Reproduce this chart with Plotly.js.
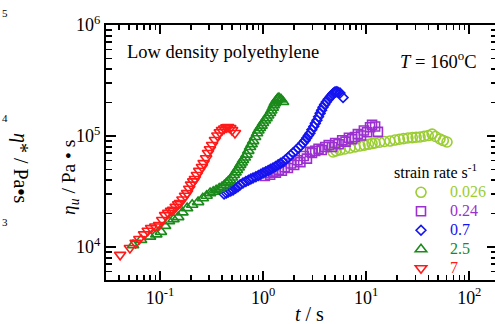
<!DOCTYPE html>
<html>
<head>
<meta charset="utf-8">
<script src="https://cdn.plot.ly/plotly-3.0.1.min.js"></script>
<style>
html,body{margin:0;padding:0;overflow:hidden;background:#fff;}
#chart{width:497px;height:324px;}
</style>
</head>
<body>
<div id="chart"></div>
<script>
// strain rate labels
var rateLabels = ['0.026', '0.24', '0.7', '2.5', '7'];

// 0.026 s^-1
var t026 = [4.77, 5.1, 5.57, 6.2, 6.96, 7.8, 8.71, 9.6, 10.5, 11.4, 12.2, 13.5, 15.0, 17.0, 19.0, 21.0, 23.0, 25.4, 28.0, 30.5, 33.3, 36.5, 40.0, 43.6, 47.0, 52.0, 56.0, 60.8];
var e026 = [71800, 73500, 74800, 76500, 78000, 79800, 81300, 82800, 84200, 85500, 86500, 88000, 89200, 90100, 92000, 93500, 94800, 96000, 96800, 97500, 98000, 99500, 101000, 104000, 99000, 94000, 91000, 88300];

// 0.24 s^-1
var t024 = [1.04, 1.10, 1.17, 1.25, 1.33, 1.42, 1.52, 1.62, 1.74, 1.86, 2.0, 2.15, 2.3, 2.48, 2.66, 2.85, 2.98, 3.2, 3.45, 3.7, 4.0, 4.33, 4.66, 5.0, 5.4, 5.85, 6.3, 6.8, 7.3, 7.78, 8.3, 8.9, 9.5, 10.2, 10.9, 11.4, 12.2, 13.0];
var e024 = [43600, 46500, 44800, 47800, 46800, 49500, 48600, 52300, 51500, 56500, 54800, 60500, 58200, 66000, 62500, 72000, 70300, 73500, 76800, 74800, 79600, 82800, 79600, 86500, 84200, 91500, 89000, 96500, 93500, 98000, 104000, 101000, 112000, 108000, 120000, 126000, 122000, 109000];

// 0.7 s^-1
var t07 = [0.418, 0.44, 0.46, 0.485, 0.511, 0.54, 0.57, 0.60, 0.638, 0.68, 0.72, 0.76, 0.798, 0.85, 0.90, 0.95, 0.998, 1.06, 1.12, 1.18, 1.247, 1.32, 1.40, 1.48, 1.56, 1.65, 1.75, 1.85, 1.95, 2.07, 2.20, 2.32, 2.44, 2.55, 2.65, 2.75, 2.85, 2.97, 3.10, 3.21, 3.33, 3.45, 3.57, 3.69, 3.81, 3.95, 4.10, 4.28, 4.46, 4.60, 4.75, 4.88, 4.98, 5.12, 5.30, 5.57, 5.96];
var e07 = [30000, 30600, 31300, 31900, 32600, 33800, 35000, 36400, 37800, 38900, 40000, 41000, 41900, 42900, 44000, 45200, 46500, 47700, 49000, 50200, 51500, 53200, 55000, 56700, 58400, 61200, 64000, 67200, 70300, 74000, 78000, 82200, 86500, 91000, 96000, 101000, 106000, 114000, 122000, 130000, 139000, 149000, 160000, 171000, 182000, 192000, 203000, 214000, 224000, 232000, 240000, 245000, 249000, 250000, 249000, 244000, 222000];

// 2.5 s^-1
var t25 = [0.0547, 0.0655, 0.080, 0.092, 0.102, 0.112, 0.122, 0.135, 0.150, 0.165, 0.183, 0.205, 0.234, 0.260, 0.283, 0.306, 0.328, 0.350, 0.375, 0.399, 0.420, 0.440, 0.458, 0.477, 0.498, 0.520, 0.540, 0.558, 0.580, 0.600, 0.620, 0.638, 0.665, 0.690, 0.718, 0.747, 0.773, 0.800, 0.836, 0.873, 0.900, 0.930, 0.965, 0.998, 1.040, 1.080, 1.120, 1.167, 1.200, 1.240, 1.270, 1.300, 1.330, 1.360, 1.390, 1.425, 1.490, 1.560];
var e25 = [10400, 11600, 12400, 13000, 13700, 15500, 17100, 17800, 18600, 20500, 22400, 24000, 25400, 27500, 29000, 30600, 31500, 32500, 33600, 34700, 36000, 37500, 38800, 40200, 42300, 44500, 47000, 49400, 52000, 55000, 57800, 60800, 64000, 68000, 73500, 79600, 84500, 90000, 98000, 106000, 112000, 118000, 124000, 131000, 138000, 145000, 153000, 161000, 170000, 180000, 189000, 198000, 205000, 212000, 217000, 220000, 214000, 203000];

// 7 s^-1
var t7 = [0.041, 0.051, 0.058, 0.063, 0.070, 0.076, 0.082, 0.090, 0.098, 0.105, 0.112, 0.120, 0.128, 0.134, 0.142, 0.150, 0.156, 0.165, 0.175, 0.183, 0.192, 0.200, 0.210, 0.218, 0.228, 0.240, 0.255, 0.265, 0.280, 0.292, 0.305, 0.320, 0.341, 0.360, 0.380, 0.399, 0.420, 0.440, 0.457, 0.480, 0.500, 0.533];
var e7 = [8500, 9800, 10900, 11800, 13000, 14000, 14800, 15300, 15800, 17500, 19400, 20300, 21200, 21600, 23000, 24300, 24900, 26800, 29000, 30600, 33500, 36500, 39000, 41000, 44500, 48500, 52600, 57000, 63000, 70300, 76000, 83000, 92000, 101000, 108000, 113000, 117000, 120000, 120500, 118000, 113000, 106500];

// axis ticks
var xTickVals = [0.1, 1, 10, 100];
var xTickText = ['10<sup>-1</sup>', '10<sup>0</sup>', '10<sup>1</sup>', '10<sup>2</sup>'];
var yTickVals = [1e4, 1e5, 1e6];
var yTickText = ['10<sup>4</sup>', '10<sup>5</sup>', '10<sup>6</sup>'];

var colors = ['#9acd32', '#9b30d0', '#1414f0', '#1a8a1a', '#ff1a1a'];
var symbols = ['circle-open', 'square-open', 'diamond-open', 'triangle-up-open', 'triangle-down-open'];
var sizes = [10, 9, 7.5, 10, 10];
var xs = [t026, t024, t07, t25, t7];
var ys = [e026, e024, e07, e25, e7];

function minorVals(lo, hi) {
  var v = [];
  for (var d = lo; d <= hi; d++) {
    for (var m = 2; m <= 9; m++) v.push(m * Math.pow(10, d));
  }
  return v;
}

var serif = 'Liberation Serif, Times New Roman, serif';
var traces = [];
for (var i = 0; i < 5; i++) {
  traces.push({
    x: xs[i], y: ys[i], type: 'scatter', mode: 'markers',
    name: '<span style="color:' + colors[i] + ';font-size:16px">' + rateLabels[i] + '</span>',
    marker: {symbol: symbols[i], size: sizes[i], color: colors[i], line: {width: 1.6, color: colors[i]}},
    cliponaxis: true
  });
}

var W = 391, H = 255, L = 106, T = 25;
function px(p) { return (p - L) / W; }
function py(p) { return (T + H - p) / H; }

var layout = {
  width: 497, height: 324,
  margin: {l: L, r: 0, t: T, b: 324 - T - H, pad: 0},
  paper_bgcolor: '#fff', plot_bgcolor: '#fff',
  font: {family: serif, size: 18, color: '#000'},
  showlegend: true,
  legend: {
    x: px(392), y: py(157), xanchor: 'left', yanchor: 'top',
    bgcolor: 'rgba(0,0,0,0)', borderwidth: 0,
    font: {family: serif, size: 11, color: '#000'},
    itemwidth: 48,
    title: {text: 'strain rate s<sup>-1</sup>', font: {family: serif, size: 16, color: '#000'}}
  },
  xaxis: {
    type: 'log', range: [Math.log10(0.0299), 2.269],
    tickmode: 'array', tickvals: xTickVals, ticktext: xTickText,
    ticks: 'inside', ticklen: 9, tickwidth: 2, tickcolor: '#000',
    showline: true, linewidth: 2, linecolor: '#000', mirror: 'allticks',
    showgrid: false, zeroline: false,
    tickfont: {family: serif, size: 18, color: '#000'},
    minor: {tickmode: 'array', tickvals: minorVals(-2, 2), ticks: 'inside', ticklen: 5, tickwidth: 1.5, tickcolor: '#000', showgrid: false}
  },
  yaxis: {
    type: 'log', range: [3.703, 6.0],
    tickmode: 'array', tickvals: yTickVals, ticktext: yTickText,
    ticks: 'inside', ticklen: 10, tickwidth: 2, tickcolor: '#000',
    showline: true, linewidth: 2, linecolor: '#000', mirror: 'allticks',
    showgrid: false, zeroline: false,
    tickfont: {family: serif, size: 18, color: '#000'},
    minor: {tickmode: 'array', tickvals: minorVals(3, 5), ticks: 'inside', ticklen: 6, tickwidth: 1.5, tickcolor: '#000', showgrid: false}
  },
  annotations: [
    {xref: 'paper', yref: 'paper', x: px(125), y: py(52), xanchor: 'left', yanchor: 'middle', showarrow: false,
     text: 'Low density polyethylene', font: {family: serif, size: 18.5, color: '#000'}},
    {xref: 'paper', yref: 'paper', x: px(479), y: py(60), xanchor: 'right', yanchor: 'middle', showarrow: false,
     text: '<i>T</i> = 160<sup>o</sup>C', font: {family: serif, size: 18.5, color: '#000'}},
    {xref: 'paper', yref: 'paper', x: px(70), y: py(178), xanchor: 'center', yanchor: 'middle', showarrow: false, textangle: -90,
     text: '<i>η</i><sub><i>u</i></sub> / Pa • s', font: {family: serif, size: 19.5, color: '#000'}},
    {xref: 'paper', yref: 'paper', x: px(309), y: py(314), xanchor: 'center', yanchor: 'middle', showarrow: false,
     text: '<i>t</i> / s', font: {family: serif, size: 20, color: '#000'}},
    {xref: 'paper', yref: 'paper', x: px(21), y: py(168), xanchor: 'center', yanchor: 'middle', showarrow: false, textangle: 90,
     text: '<i>η</i>* / Pa<b>•</b>s', font: {family: serif, size: 20, color: '#000'}},
    {xref: 'paper', yref: 'paper', x: px(0), y: py(13), xanchor: 'left', yanchor: 'middle', showarrow: false,
     text: '5', font: {family: serif, size: 11, color: '#000'}},
    {xref: 'paper', yref: 'paper', x: px(0), y: py(118), xanchor: 'left', yanchor: 'middle', showarrow: false,
     text: '4', font: {family: serif, size: 11, color: '#000'}},
    {xref: 'paper', yref: 'paper', x: px(0), y: py(222), xanchor: 'left', yanchor: 'middle', showarrow: false,
     text: '3', font: {family: serif, size: 11, color: '#000'}}
  ]
};

Plotly.newPlot('chart', traces, layout, {staticPlot: true, displayModeBar: false});
</script>
</body>
</html>
